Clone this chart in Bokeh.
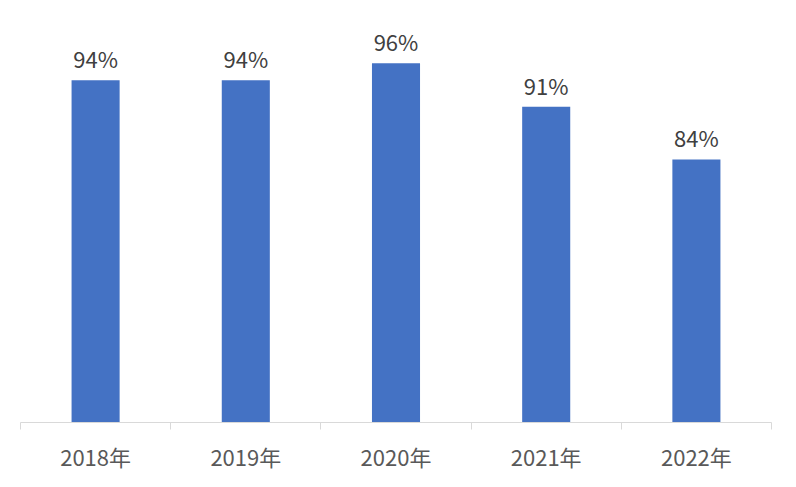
from bokeh.plotting import figure
from bokeh.models import ColumnDataSource, LinearAxis, FixedTicker, Range1d
from bokeh.core.properties import value
from bokeh.embed import file_html
from bokeh.resources import INLINE

# data
years = ["2018年", "2019年", "2020年", "2021年", "2022年"]
rates = [0.941, 0.941, 0.963, 0.907, 0.839]

FONT = "Noto Sans CJK SC"

n = len(years)
centers = [i + 0.5 for i in range(n)]
labels = [f"{round(v * 100)}%" for v in rates]

src = ColumnDataSource(dict(x=centers, top=rates, label=labels))

p = figure(width=796, height=487, output_backend="svg", toolbar_location=None,
           x_range=Range1d(0, n), y_range=Range1d(0.5, 1.04),
           x_axis_location=None, y_axis_location=None,
           min_border_left=20, min_border_right=25, min_border_top=3,
           min_border_bottom=65)
p.grid.visible = False
p.outline_line_color = None
p.background_fill_color = "white"
p.border_fill_color = "white"

p.vbar(x="x", top="top", bottom=0.5, width=0.32, source=src,
       fill_color="#4472C4", line_color=None)

p.text(x="x", y="top", text="label", source=src, y_offset=-22,
       text_align="center", text_baseline="alphabetic",
       text_font=value(FONT), text_font_size="22px", text_color="#404040")

# axis with boundary ticks
ax1 = LinearAxis(ticker=FixedTicker(ticks=list(range(n + 1)), minor_ticks=[]))
ax1.axis_line_color = "#d9d9d9"
ax1.axis_line_width = 1
ax1.major_tick_line_color = "#d9d9d9"
ax1.major_tick_out = 7
ax1.major_tick_in = 0
ax1.minor_tick_line_color = None
ax1.major_label_text_font_size = "0px"
ax1.major_label_standoff = 0
ax1.major_label_overrides = {i: "" for i in range(n + 1)}
p.add_layout(ax1, "below")

# axis with category labels
ax2 = LinearAxis(ticker=FixedTicker(ticks=centers, minor_ticks=[]))
ax2.axis_line_color = None
ax2.major_tick_line_color = None
ax2.minor_tick_line_color = None
ax2.major_tick_out = 0
ax2.major_tick_in = 0
ax2.major_label_overrides = {c: y for c, y in zip(centers, years)}
ax2.major_label_text_font = FONT
ax2.major_label_text_font_size = "22px"
ax2.major_label_text_color = "#595959"
ax2.major_label_standoff = 10
p.add_layout(ax2, "below")

open("out.html", "w").write(file_html(p, INLINE))
